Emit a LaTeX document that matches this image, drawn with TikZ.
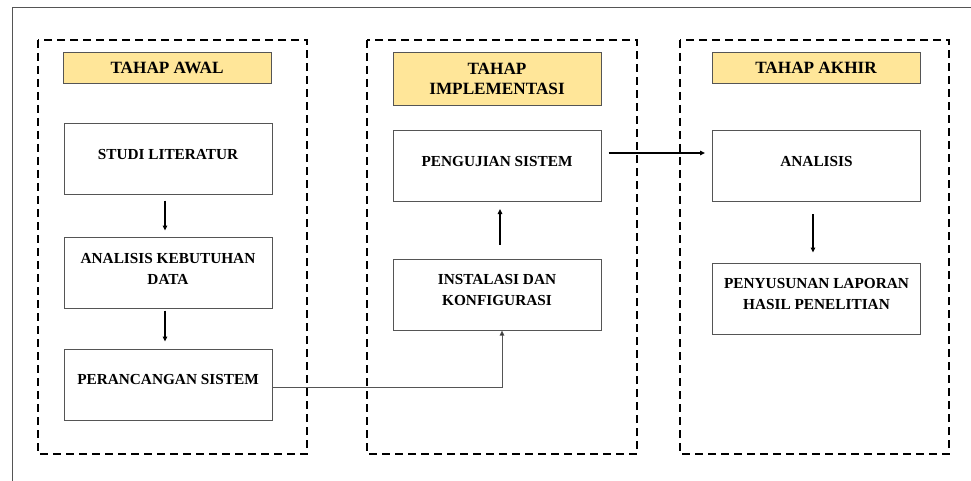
\documentclass[tikz,border=0pt]{standalone}
\usepackage{fontspec}
\setmainfont{Liberation Serif}
\usetikzlibrary{arrows.meta}
\definecolor{headfill}{HTML}{FFE699}
\definecolor{edge}{HTML}{555555}
\tikzset{
  phase/.style={draw=black, line width=1.8pt, dash pattern=on 8pt off 5pt},
  headbox/.style={draw=edge, line width=0.9pt, fill=headfill, minimum width=208pt,
    align=center, font=\fontsize{17.2}{20}\selectfont\bfseries},
  stepbox/.style={draw=edge, line width=1pt, minimum width=208pt, minimum height=71pt},
  steptext/.style={align=center, font=\fontsize{15.3}{21}\selectfont\bfseries},
  flow/.style={line width=1.4pt, -{Triangle[length=5pt,width=4.5pt]}},
  thinflow/.style={draw=edge, line width=1pt, -{Triangle[length=5pt,width=4.5pt,fill=black]}},
}
\begin{document}
\begin{tikzpicture}[x=1pt,y=-1pt]
\useasboundingbox (0,0) rectangle (971,481);
% page frame
\draw[edge, line width=0.9pt] (12,481) -- (12,7) -- (971,7);

% phase frames
\draw[phase] (38,40) rectangle (307,454);
\draw[phase] (367,40) rectangle (637,454);
\draw[phase] (680,40) rectangle (949,454);

% headers
\node[headbox, minimum height=31pt] (h1) at (167,67.5) {TAHAP AWAL};
\node[headbox, minimum height=53pt] (h2) at (497,78.5) {TAHAP\\IMPLEMENTASI};
\node[headbox, minimum height=31pt] (h3) at (816,67.5) {TAHAP AKHIR};

% steps of the first phase
\node[stepbox] (studi) at (168,159.5) {};
\node[steptext] at ([yshift=4.5pt]studi.center) {STUDI LITERATUR};
\node[stepbox] (kebutuhan) at (168,273) {};
\node[steptext] at ([yshift=4.5pt]kebutuhan.center) {ANALISIS KEBUTUHAN\\DATA};
\node[stepbox] (rancang) at (168,384.5) {};
\node[steptext] at ([yshift=4.5pt]rancang.center) {PERANCANGAN SISTEM};

% steps of the implementation phase
\node[stepbox] (uji) at (497,166) {};
\node[steptext] at ([yshift=4.5pt]uji.center) {PENGUJIAN SISTEM};
\node[stepbox] (instal) at (497,294.5) {};
\node[steptext] at ([yshift=4.5pt]instal.center) {INSTALASI DAN\\KONFIGURASI};

% steps of the final phase
\node[stepbox] (analisis) at (816.5,166) {};
\node[steptext] at ([yshift=4.5pt]analisis.center) {ANALISIS};
\node[stepbox] (susun) at (816.5,299) {};
\node[steptext] at ([yshift=4.5pt]susun.center) {PENYUSUNAN LAPORAN\\HASIL PENELITIAN};

% connectors
\draw[flow] ([xshift=-3pt,yshift=-5pt]studi.south) -- ([xshift=-3pt,yshift=6.5pt]kebutuhan.north);
\draw[flow] ([xshift=-3pt,yshift=-1.5pt]kebutuhan.south) -- ([xshift=-3pt,yshift=7pt]rancang.north);
\draw[thinflow] (rancang.east |- 0,387) -| ([xshift=5pt]instal.south);
\draw[flow] ([xshift=3pt,yshift=14pt]instal.north) -- ([xshift=3pt,yshift=-7pt]uji.south);
\draw[flow] ([xshift=7pt]uji.east |- 0,153) -- ([xshift=-7pt]analisis.west |- 0,153);
\draw[flow] ([xshift=-3.5pt,yshift=-12pt]analisis.south) -- ([xshift=-3.5pt,yshift=10.5pt]susun.north);
\end{tikzpicture}
\end{document}
